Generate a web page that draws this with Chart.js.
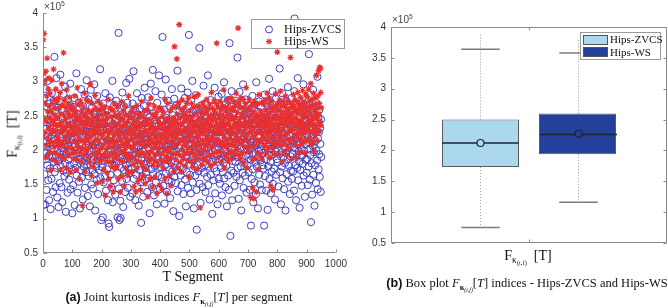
<!DOCTYPE html>
<html>
<head>
<meta charset="utf-8">
<script src="https://cdn.jsdelivr.net/npm/chart.js@4.4.1/dist/chart.umd.min.js"></script>
<style>
  html, body { margin:0; padding:0; background:#fff; }
  #wrap { position:relative; width:668px; height:308px; overflow:hidden; }
  canvas { position:absolute; top:0; }
  .t { position:absolute; white-space:nowrap; line-height:1; }
  .serif { font-family:"Liberation Serif","DejaVu Serif",serif; color:#111; }
  .sans { font-family:"Liberation Sans",Arial,sans-serif; }
  .c { transform:translate(-50%,-50%); }
  sub { font-size:68%; vertical-align:-0.35em; line-height:0; }
  sup { font-size:68%; vertical-align:0.55em; line-height:0; }
  .leg { position:absolute; background:#fff; border:1px solid #9a9a9a; box-sizing:border-box; }
</style>
</head>
<body>
<div id="wrap">
  <canvas id="scatterChart" width="352" height="308" style="left:0"></canvas>
  <canvas id="boxChart" width="316" height="308" style="left:352px"></canvas>

  <div class="t sans" style="left:44px;top:2px;font-size:10px;color:#444">×10<sup>5</sup></div>
  <div class="t sans" style="left:392px;top:15px;font-size:10px;color:#444">×10<sup>5</sup></div>

  <div class="t serif c" style="left:13px;top:134px;font-size:14px;transform:translate(-50%,-50%) rotate(-90deg)">F<sub>κ<sub>(t,f)</sub></sub>&nbsp;&nbsp;[T]</div>
  <div class="t serif c" style="left:193px;top:277px;font-size:14px">T Segment</div>
  <div class="t serif c" style="left:179px;top:297px;font-size:12.5px"><b class="sans">(a)</b> Joint kurtosis indices <i>F</i><sub><b>κ</b><sub><i>(t,f)</i></sub></sub>[<i>T</i>] per segment</div>

  <div class="t serif c" style="left:528px;top:256px;font-size:14px">F<sub>κ<sub>(t,f)</sub></sub>&nbsp;&nbsp;[T]</div>
  <div class="t serif c" style="left:527px;top:283px;font-size:12.5px"><b class="sans">(b)</b> Box plot <i>F</i><sub><b>κ</b><sub><i>(t,f)</i></sub></sub>[<i>T</i>] indices - Hips-ZVCS and Hips-WS</div>

  <div class="leg" style="left:251px;top:19px;width:94px;height:30px">
    <svg width="30" height="28" style="position:absolute;left:0;top:0">
      <circle cx="17" cy="9.5" r="3.5" fill="none" stroke="#3e3ebe" stroke-width="1"/>
      <g stroke="#e83030" stroke-width="1.2" transform="translate(17,21.5)">
        <line x1="-3" y1="0" x2="3" y2="0"/><line x1="0" y1="-3" x2="0" y2="3"/>
        <line x1="-2.2" y1="-2.2" x2="2.2" y2="2.2"/><line x1="-2.2" y1="2.2" x2="2.2" y2="-2.2"/>
      </g>
    </svg>
    <div class="t serif" style="left:32px;top:3px;font-size:12px">Hips-ZVCS</div>
    <div class="t serif" style="left:32px;top:15px;font-size:12px">Hips-WS</div>
  </div>

  <div class="leg" style="left:580px;top:32px;width:81px;height:28px">
    <div style="position:absolute;left:2px;top:1.5px;width:25px;height:10px;background:#acd8ee;border:1px solid #555;box-sizing:border-box"></div>
    <div style="position:absolute;left:2px;top:14px;width:25px;height:10px;background:#23409a;border:1px solid #555;box-sizing:border-box"></div>
    <div class="t serif" style="left:29px;top:1px;font-size:11px">Hips-ZVCS</div>
    <div class="t serif" style="left:29px;top:13.5px;font-size:11px">Hips-WS</div>
  </div>
</div>

<script>
// joint kurtosis per segment, in thousands (213 -> 2.13 x10^5), segment = index + 1
const zvcsK = [
120,232,276,198,165,254,121,213,289,187,231,142,205,263,178,219,301,156,244,192,127,268,210,173,236,114,249,201,158,283,222,189,247,139,207,272,183,226,336,168,215,258,146,193,239,305,174,211,131,262,
184,243,117,229,271,196,152,218,310,177,233,203,146,259,189,124,247,214,170,282,198,236,162,208,293,181,225,110,252,194,167,241,219,138,274,205,186,230,157,266,212,178,297,143,224,199,255,171,236,108,
215,263,149,192,238,181,276,120,209,247,174,228,195,312,163,217,253,138,201,242,186,269,154,223,197,115,249,211,171,289,232,160,206,245,183,128,264,219,176,238,198,281,145,227,190,256,168,213,302,179,
241,189,133,226,274,162,209,251,194,118,236,178,288,215,150,199,262,227,171,207,144,254,186,231,296,165,218,112,248,203,176,239,157,212,279,193,228,136,266,183,221,171,247,205,318,159,234,190,98,256,
211,175,247,102,229,268,153,197,239,184,221,162,283,206,141,251,193,230,172,215,259,127,208,93,244,88,186,277,219,164,233,198,146,255,210,179,301,124,238,187,214,156,266,201,177,243,135,228,196,272,
183,219,251,167,102,236,198,371,144,213,98,262,189,126,101,227,174,248,209,155,284,193,231,117,205,264,171,222,187,139,246,212,178,298,158,235,201,269,145,218,191,257,166,229,304,182,240,132,207,251,
226,173,245,192,137,268,211,183,315,158,203,249,176,222,127,257,196,238,164,214,283,147,229,188,252,206,119,241,171,197,260,218,153,233,94,185,276,207,162,244,198,132,223,265,180,211,291,156,239,174,
215,256,168,194,242,139,226,189,277,203,159,234,211,108,249,182,221,297,172,208,263,146,230,191,317,165,217,254,134,200,238,177,212,286,153,225,196,244,121,269,187,219,162,235,205,309,174,251,143,213,
198,242,175,226,281,160,209,365,187,233,148,214,259,193,122,238,178,221,303,166,205,247,139,229,185,272,201,156,236,214,171,264,192,130,245,209,183,226,154,289,218,169,251,197,111,232,206,275,161,222,
184,237,209,152,265,198,227,171,316,140,213,249,188,227,104,258,176,219,243,163,206,290,149,231,194,267,172,211,136,244,225,183,202,276,157,239,190,118,251,214,168,230,197,284,145,221,208,368,179,255,
218,164,246,199,137,272,185,228,210,301,153,237,192,259,115,224,176,248,207,163,280,196,233,142,84,216,253,178,204,238,169,227,189,349,151,243,212,123,265,197,232,174,258,205,146,221,189,294,167,240,
203,251,178,226,139,268,194,215,246,161,232,187,309,149,222,257,176,208,128,241,195,273,164,230,212,183,247,107,225,199,264,156,218,238,174,291,201,137,249,186,227,169,213,256,192,121,235,205,278,158,
241,187,226,151,264,209,174,237,196,282,134,218,253,168,207,243,181,299,159,228,192,266,146,213,235,177,251,118,220,189,273,163,232,205,142,258,356,194,226,75,211,248,170,286,203,127,239,184,222,167,
254,196,231,148,219,272,183,208,245,161,227,190,268,335,174,236,212,129,249,197,285,156,224,203,176,241,112,259,188,215,234,167,296,201,145,252,219,181,238,163,207,274,192,230,138,256,210,178,244,199,
221,168,253,194,237,142,211,265,186,90,229,203,158,247,279,172,216,124,238,195,261,153,226,207,183,244,136,299,210,176,232,189,256,115,221,198,271,164,240,209,150,233,185,263,201,227,142,251,178,214,
196,238,173,252,90,214,281,162,229,199,247,141,220,187,268,205,113,241,176,232,193,304,158,224,211,256,183,137,247,202,169,235,214,286,151,227,194,262,173,210,243,128,219,198,275,164,232,208,187,253,
182,226,261,147,213,240,194,319,168,209,234,121,252,197,176,228,283,159,216,243,190,267,143,225,204,181,247,112,231,196,271,165,219,238,187,292,154,212,249,177,222,203,136,258,191,234,170,214,276,158,
237,195,214,169,251,229,141,286,392,203,178,243,216,127,262,190,233,174,208,305,156,227,198,249,183,116,239,212,171,268,204,236,148,221,192,257,180,214,296,163,230,199,245,132,218,273,186,209,241,167,
224,187,258,149,212,239,176,340,201,267,157,229,193,246,95,218,181,262,135,234,206,288,164,223,197,251,119,241,178,213,270,152,228,199,236,185,307,143,217,248,172,226,194,259,161,232,209,139,245,190
];
const wsK = [
361,298,312,370,247,226,301,268,189,315,242,207,279,334,218,256,193,289,231,305,264,212,247,198,283,236,171,257,224,302,211,268,243,186,229,318,252,205,274,238,196,261,227,289,214,247,183,236,271,209,
248,219,276,193,237,262,205,284,228,171,253,240,212,297,226,189,266,234,208,342,251,187,229,273,216,245,198,262,233,174,288,221,256,204,239,267,192,226,251,213,277,236,168,249,222,203,264,231,195,258,
233,201,262,224,187,251,238,213,279,196,245,228,171,256,209,234,291,186,222,267,204,243,216,158,249,231,197,272,214,241,183,226,257,203,119,238,264,192,227,249,211,283,169,236,218,253,199,242,226,273,
214,247,189,258,226,203,271,236,182,245,219,296,207,238,163,254,229,195,268,241,176,223,259,212,247,186,232,280,204,226,261,193,239,216,152,249,228,271,197,236,213,258,184,244,223,202,267,235,191,252,
187,236,154,221,259,208,172,243,226,195,263,134,214,238,183,252,201,229,167,246,218,191,274,206,158,237,225,183,261,212,147,228,249,196,233,176,215,258,204,139,241,222,188,267,209,173,235,251,196,227,
213,176,248,229,192,263,158,221,237,204,185,252,214,139,244,227,198,271,162,233,208,246,183,225,257,196,148,238,219,264,201,174,236,213,189,251,226,163,242,207,194,279,215,168,231,248,186,223,205,256,
229,191,247,168,216,238,203,179,262,224,147,235,209,254,186,221,139,243,198,231,265,174,212,237,193,156,248,218,183,226,209,252,142,234,197,219,271,181,239,162,224,206,248,175,213,194,257,229,151,238,
205,243,172,226,189,258,214,132,237,196,221,267,183,209,245,158,231,198,276,216,187,239,146,224,252,203,178,233,211,264,193,227,161,248,206,184,219,255,137,232,214,196,243,178,261,222,203,149,236,211,
238,186,224,261,143,217,249,196,232,174,256,209,183,239,221,158,274,201,227,191,246,216,137,231,203,268,185,222,244,197,162,236,213,257,189,226,148,241,205,233,178,262,219,195,247,211,169,238,351,226,
243,207,231,186,264,219,333,197,252,226,174,238,211,269,383,193,228,247,182,236,215,259,168,224,273,201,239,216,187,254,229,194,262,208,243,177,226,251,213,196,268,232,185,247,219,204,276,161,238,222,
257,221,196,243,229,184,268,213,238,201,249,176,226,262,209,193,234,278,218,186,241,205,264,227,172,253,219,236,198,281,212,245,188,229,264,207,116,242,223,196,257,233,179,248,214,269,201,236,187,254,
226,263,207,241,189,255,232,214,274,198,238,221,183,259,246,208,229,192,267,235,213,251,177,236,284,219,243,204,261,227,195,248,216,272,233,181,257,224,209,245,268,197,356,238,214,252,226,189,263,231,
214,246,233,198,271,225,259,207,238,183,252,227,264,211,196,243,288,219,235,174,248,206,263,229,191,257,237,214,274,202,226,251,185,239,268,217,244,196,259,231,208,276,223,187,249,234,262,213,197,245,
258,224,271,206,239,193,264,247,218,283,231,201,255,236,212,378,227,269,194,242,263,217,233,188,276,249,209,238,261,224,196,253,274,214,237,181,262,228,247,205,268,233,219,291,241,174,256,222,238,203,
236,259,212,274,197,243,226,263,131,238,251,204,229,186,267,145,242,218,256,129,233,271,207,246,188,264,223,139,252,215,239,197,268,226,249,172,235,281,211,244,228,193,257,236,214,269,187,242,224,251,
244,219,267,233,251,206,238,273,214,249,227,259,196,242,283,221,236,204,268,231,247,213,276,189,255,226,241,148,262,218,235,271,203,247,142,229,258,211,236,194,263,245,219,282,238,207,252,227,264,343,
231,268,247,212,259,236,194,273,241,225,286,218,252,207,264,239,183,247,229,271,214,256,238,198,266,243,221,279,208,252,236,193,261,224,248,272,216,239,257,203,244,228,269,213,335,251,232,187,262,246,
267,229,254,238,281,214,246,263,222,273,239,207,258,246,189,271,233,256,219,284,243,261,226,197,268,235,252,216,277,241,208,259,234,266,223,287,247,212,254,231,271,238,196,263,249,227,282,214,257,236,
249,278,231,264,213,256,289,239,226,271,244,218,262,297,236,251,207,274,243,228,265,212,283,246,237,198,259,276,221,254,232,268,247,309,226,261,214,249,279,238,316,253,227,268,321,242,319,284,236,262
];

// box plot statistics (x10^5)
const boxNames = ['Hips-ZVCS', 'Hips-WS'];
const boxColors = ['#acd8ee', '#23409a'];
const boxLow  = [0.75, 1.16];
const boxQ1   = [1.73, 1.94];
const boxMed  = [2.12, 2.26];
const boxQ3   = [2.50, 2.60];
const boxHigh = [3.64, 3.58];
const boxMax  = [3.90, 3.80];
const boxMean = [2.12, 2.27];

const yMin = 0.5, yMax = 4, yStep = 0.5;
const segMin = 0, segMax = 1000, segStep = 100;

const toPts = arr => arr.map((v, i) => ({ x: i + 1, y: v / 100 }));

// inward tick marks and axis lines, matlab style
const axesPlug = {
  id: 'axesPlug',
  afterDraw(chart, args, opts) {
    const { ctx, chartArea: a, scales: { x, y } } = chart;
    const L = Math.round(a.left) + 0.5, R = Math.round(a.right) - 0.5;
    const T = Math.round(a.top) + 0.5, B = Math.round(a.bottom) - 0.5;
    ctx.save();
    ctx.strokeStyle = '#8a8a8a';
    ctx.lineWidth = 1;
    ctx.beginPath();
    if (opts.box) {
      ctx.rect(L, T, R - L, B - T);
    } else {
      ctx.moveTo(L, T); ctx.lineTo(L, B); ctx.lineTo(R, B);
    }
    y.ticks.forEach(t => {
      const py = Math.round(y.getPixelForValue(t.value)) + 0.5;
      ctx.moveTo(L, py); ctx.lineTo(L + 3, py);
      if (opts.box) { ctx.moveTo(R, py); ctx.lineTo(R - 3, py); }
    });
    if (opts.box) {
      const px = Math.round((a.left + a.right) / 2) + 0.5;
      ctx.moveTo(px, B); ctx.lineTo(px, B - 3);
      ctx.moveTo(px, T); ctx.lineTo(px, T + 3);
    } else {
      x.ticks.forEach(t => {
        const px = Math.round(x.getPixelForValue(t.value)) + 0.5;
        ctx.moveTo(px, B); ctx.lineTo(px, B - 3);
      });
    }
    ctx.stroke();
    ctx.restore();
  }
};

// whiskers, medians and means on top of the floating bars
const boxPlug = {
  id: 'boxPlug',
  afterDatasetsDraw(chart) {
    const { ctx, scales: { y } } = chart;
    const py = v => y.getPixelForValue(v);
    ctx.save();
    boxNames.forEach((n, i) => {
      const bar = chart.getDatasetMeta(i).data[0];
      const cx = Math.round(bar.x) + 0.5, w = bar.width;
      ctx.strokeStyle = '#9a9a9a';
      ctx.lineWidth = 1;
      ctx.setLineDash([1, 2]);
      ctx.beginPath();
      ctx.moveTo(cx, py(boxQ3[i])); ctx.lineTo(cx, py(boxMax[i]));
      ctx.moveTo(cx, py(boxQ1[i])); ctx.lineTo(cx, py(boxLow[i]));
      ctx.stroke();
      ctx.setLineDash([]);
      ctx.strokeStyle = '#7a7a7a';
      ctx.lineWidth = 1.5;
      ctx.beginPath();
      ctx.moveTo(cx - w / 4, py(boxHigh[i])); ctx.lineTo(cx + w / 4, py(boxHigh[i]));
      ctx.moveTo(cx - w / 4, py(boxLow[i])); ctx.lineTo(cx + w / 4, py(boxLow[i]));
      ctx.stroke();
      ctx.strokeStyle = '#1e2430';
      ctx.beginPath();
      ctx.moveTo(cx - w / 2, py(boxMed[i])); ctx.lineTo(cx + w / 2, py(boxMed[i]));
      ctx.stroke();
      ctx.lineWidth = 1.2;
      ctx.fillStyle = boxColors[i];
      ctx.beginPath();
      ctx.arc(cx, py(boxMean[i]), 3.5, 0, Math.PI * 2);
      ctx.fill();
      ctx.stroke();
    });
    ctx.restore();
  }
};

const tickFont = { family: 'Liberation Sans, Arial, sans-serif', size: 10 };

const ctxA = document.getElementById('scatterChart').getContext('2d');
const scatterChart = new Chart(ctxA, {
  type: 'scatter',
  data: {
    datasets: [{
      label: 'Hips-ZVCS',
      data: toPts(zvcsK),
      pointStyle: 'circle',
      pointRadius: 3.6,
      borderColor: '#3e3ebe',
      backgroundColor: 'rgba(0,0,0,0)',
      borderWidth: 1,
      order: 1
    }, {
      label: 'Hips-WS',
      data: toPts(wsK),
      pointStyle: 'star',
      pointRadius: 3,
      borderColor: '#e83030',
      backgroundColor: '#e83030',
      borderWidth: 1.2,
      order: 0
    }]
  },
  options: {
    responsive: false,
    animation: false,
    events: [],
    devicePixelRatio: 1,
    layout: { padding: { top: 13, right: 4, left: 0, bottom: 0 } },
    plugins: { legend: { display: false }, tooltip: { enabled: false }, axesPlug: { box: false } },
    scales: {
      x: {
        type: 'linear', min: segMin, max: segMax,
        grid: { display: false, drawTicks: false }, border: { display: false },
        ticks: { stepSize: segStep, padding: 5, color: '#333', font: tickFont, maxRotation: 0, callback: v => String(v) },
        afterFit(s) { s.height = 55; }
      },
      y: {
        min: yMin, max: yMax,
        grid: { display: false, drawTicks: false }, border: { display: false },
        ticks: { stepSize: yStep, padding: 5, color: '#333', font: tickFont, callback: v => String(v) },
        afterFit(s) { s.width = 43; }
      }
    }
  },
  plugins: [axesPlug]
});

const ctxB = document.getElementById('boxChart').getContext('2d');
const boxChart = new Chart(ctxB, {
  type: 'bar',
  data: {
    labels: [''],
    datasets: boxNames.map((n, i) => ({
      label: n,
      data: [[boxQ1[i], boxQ3[i]]],
      backgroundColor: boxColors[i],
      borderColor: '#5a5a5a',
      borderWidth: 1,
      borderSkipped: false
    }))
  },
  options: {
    responsive: false,
    animation: false,
    events: [],
    devicePixelRatio: 1,
    layout: { padding: { top: 27, right: 1, left: 0, bottom: 0 } },
    datasets: { bar: { categoryPercentage: 0.703, barPercentage: 0.794 } },
    plugins: { legend: { display: false }, tooltip: { enabled: false }, axesPlug: { box: true } },
    scales: {
      x: {
        grid: { display: false, drawTicks: false }, border: { display: false },
        ticks: { display: false },
        afterFit(s) { s.height = 65; }
      },
      y: {
        min: yMin, max: yMax,
        grid: { display: false, drawTicks: false }, border: { display: false },
        ticks: { stepSize: yStep, padding: 5, color: '#333', font: tickFont, callback: v => String(v) },
        afterFit(s) { s.width = 39; }
      }
    }
  },
  plugins: [axesPlug, boxPlug]
});
</script>
</body>
</html>
